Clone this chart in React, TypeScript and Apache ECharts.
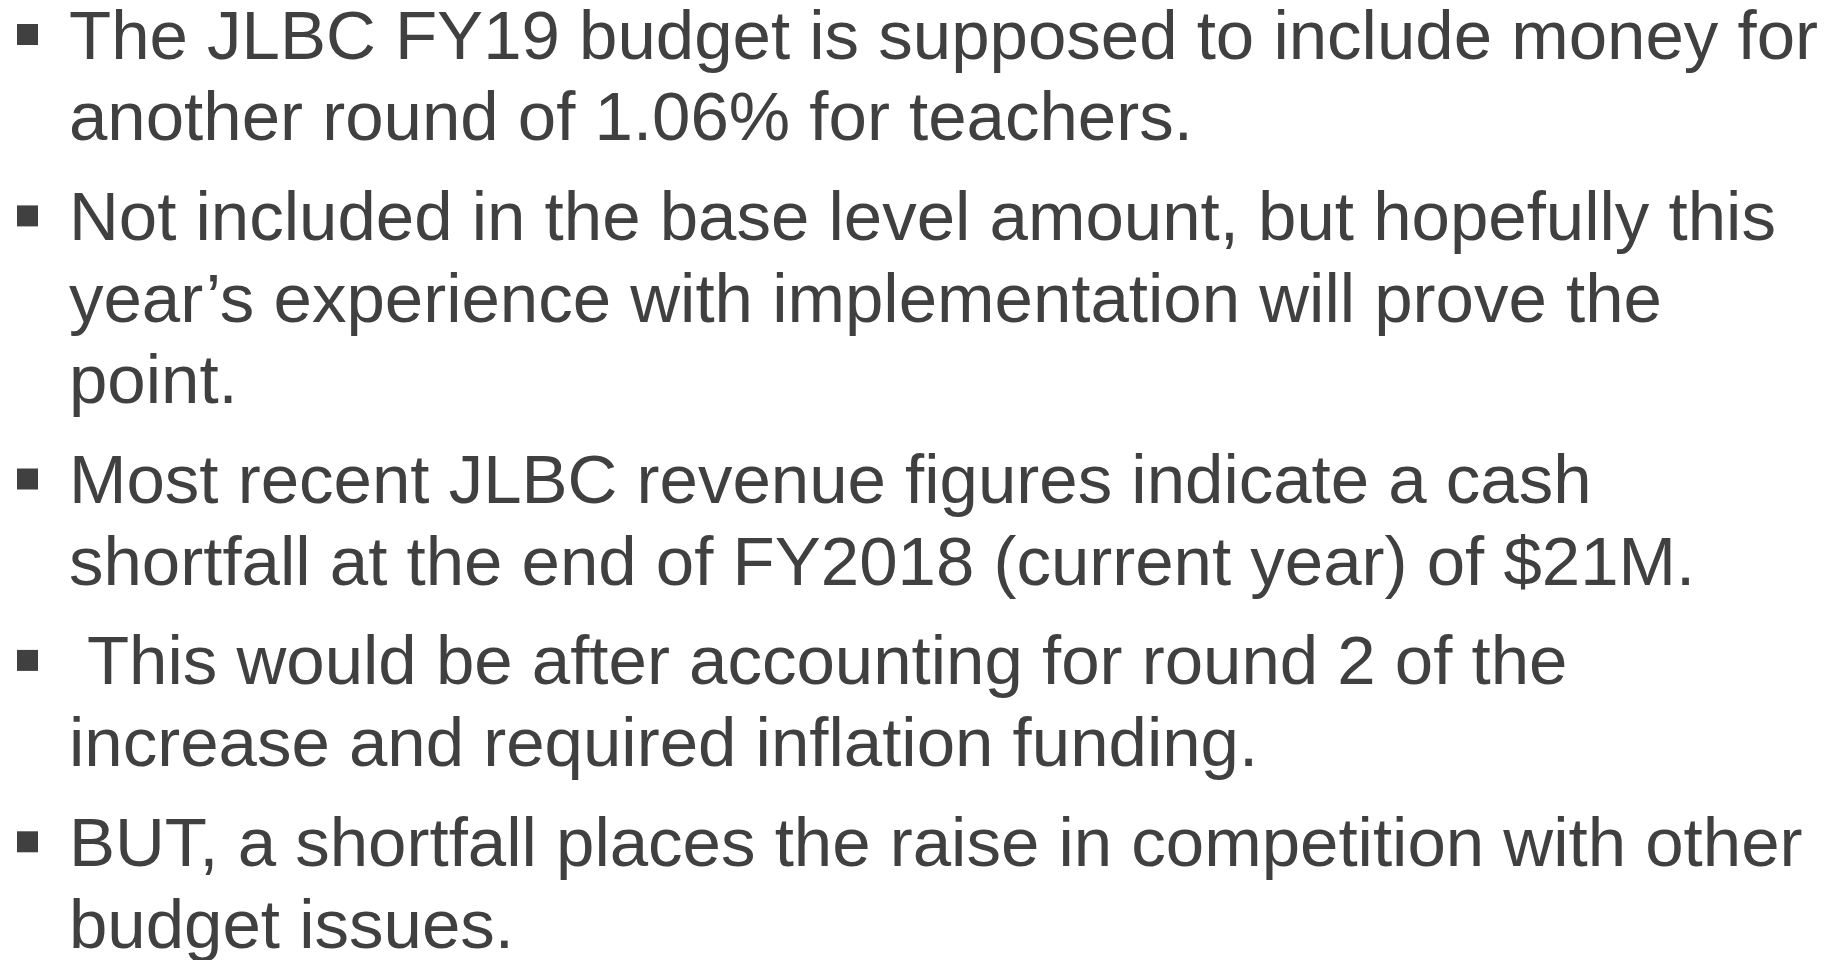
import React, { useEffect, useRef } from "react";
import * as echarts from "echarts";

const paragraphs: string[][] = [
  ["The JLBC FY19 budget is supposed to include money for", "another round of 1.06% for teachers."],
  [
    "Not included in the base level amount, but hopefully this",
    "year\u2019s experience with implementation will prove the",
    "point.",
  ],
  ["Most recent JLBC revenue figures indicate a cash", "shortfall at the end of FY2018 (current year) of $21M."],
  [" This would be after accounting for round 2 of the", "increase and required inflation funding."],
  ["BUT, a shortfall places the raise in competition with other", "budget issues."],
];

const TEXT_COLOR = "#404040";
const FONT_SIZE = 69;
const FONT_FAMILY = '"Liberation Sans", Arial, Helvetica, sans-serif';

export default function App() {
  const ref = useRef<HTMLDivElement>(null);
  useEffect(() => {
    document.body.style.margin = "0";
    if (!ref.current) return;
    const chart = echarts.init(ref.current, null, { renderer: "svg" });

    const firstBaseline = 59;
    const lineStep = 81.7;
    const paraStep = 99.7;
    const textX = 69;
    const centralOffset = 0.347 * FONT_SIZE;

    const elements: any[] = [];
    let baseline = firstBaseline;
    paragraphs.forEach((lines, pi) => {
      if (pi > 0) baseline += paraStep;
      elements.push({
        type: "rect",
        silent: true,
        shape: { x: 17, y: baseline - 35, width: 21, height: 21 },
        style: { fill: TEXT_COLOR },
      });
      lines.forEach((line, li) => {
        if (li > 0) baseline += lineStep;
        elements.push({
          type: "text",
          silent: true,
          x: textX,
          y: baseline - centralOffset,
          style: {
            text: line,
            fill: TEXT_COLOR,
            fontSize: FONT_SIZE,
            fontFamily: FONT_FAMILY,
            verticalAlign: "middle",
            align: "left",
          },
        });
      });
    });

    chart.setOption({
      animation: false,
      backgroundColor: "#ffffff",
      graphic: elements,
    });
    return () => chart.dispose();
  }, []);
  return <div ref={ref} style={{ width: 1843, height: 960 }} />;
}
